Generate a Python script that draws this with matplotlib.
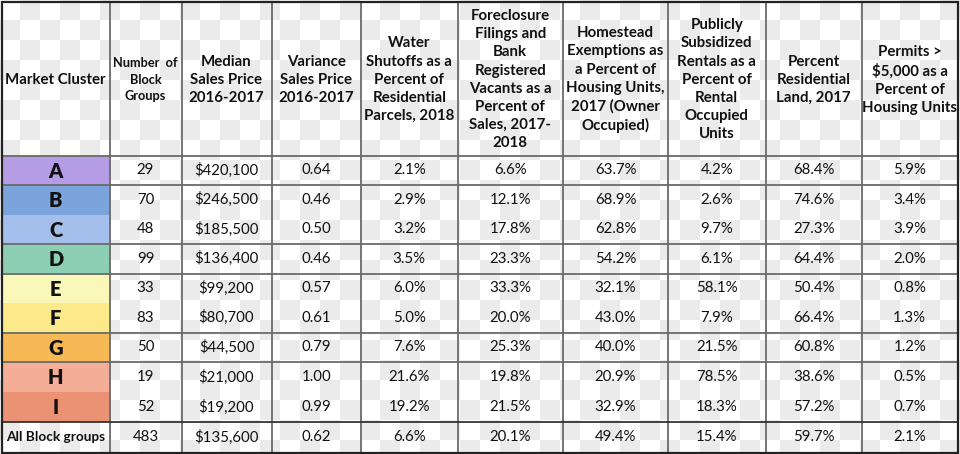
import matplotlib
matplotlib.use('Agg')
import matplotlib.pyplot as plt
import numpy as np
from matplotlib.patches import Rectangle

plt.rcParams['font.family'] = ['Lato', 'DejaVu Sans']
plt.rcParams['text.parse_math'] = False

##################################################
# table data
##################################################
clusters = ['A', 'B', 'C', 'D', 'E', 'F', 'G', 'H', 'I']
total_label = 'All Block groups'
block_groups = [29, 70, 48, 99, 33, 83, 50, 19, 52, 483]
median_price = [420100, 246500, 185500, 136400, 99200, 80700, 44500, 21000, 19200, 135600]
variance_price = [0.64, 0.46, 0.50, 0.46, 0.57, 0.61, 0.79, 1.00, 0.99, 0.62]
water_shutoffs = [2.1, 2.9, 3.2, 3.5, 6.0, 5.0, 7.6, 21.6, 19.2, 6.6]
foreclosures = [6.6, 12.1, 17.8, 23.3, 33.3, 20.0, 25.3, 19.8, 21.5, 20.1]
homestead = [63.7, 68.9, 62.8, 54.2, 32.1, 43.0, 40.0, 20.9, 32.9, 49.4]
subsidized = [4.2, 2.6, 9.7, 6.1, 58.1, 7.9, 21.5, 78.5, 18.3, 15.4]
residential_land = [68.4, 74.6, 27.3, 64.4, 50.4, 66.4, 60.8, 38.6, 57.2, 59.7]
permits = [5.9, 3.4, 3.9, 2.0, 0.8, 1.3, 1.2, 0.5, 0.7, 2.1]

headers = ['Market Cluster',
           'Number  of\nBlock\nGroups',
           'Median\nSales Price\n2016-2017',
           'Variance\nSales Price\n2016-2017',
           'Water\nShutoffs as a\nPercent of\nResidential\nParcels, 2018',
           'Foreclosure\nFilings and\nBank\nRegistered\nVacants as a\nPercent of\nSales, 2017-\n2018',
           'Homestead\nExemptions as\na Percent of\nHousing Units,\n2017 (Owner\nOccupied)',
           'Publicly\nSubsidized\nRentals as a\nPercent of\nRental\nOccupied\nUnits',
           'Percent\nResidential\nLand, 2017',
           'Permits >\n$5,000 as a\nPercent of\nHousing Units']

cluster_colors = ['#b59de6', '#7ba3dc', '#a4bfec', '#8dcfb5', '#faf8b8',
                  '#fbe98a', '#f6b955', '#f4ae98', '#eb9274']

# layout in pixels
col_x = [2, 109.5, 181.5, 271.5, 361, 457.5, 563, 668, 765.5, 862, 957.5]
row_y = [2, 155.5, 185, 214.5, 244, 273.5, 303, 332.5, 362, 392, 422, 452.5]
ruled_rows = [1, 2, 4, 5, 7, 8, 10]

W, H = 960, 454
fig = plt.figure(figsize=(W / 100, H / 100), dpi=100)
ax = fig.add_axes([0, 0, 1, 1])
ax.axis('off')

# transparency checkerboard background
ny, nx = 23, 48
checker = (np.add.outer(np.arange(ny), np.arange(nx)) % 2).astype(float)
ax.imshow(checker, cmap=matplotlib.colors.ListedColormap(['#ffffff', '#ebebeb']),
          extent=(0, nx * 20, ny * 20, 0), interpolation='nearest', zorder=0)
ax.set_xlim(0, W)
ax.set_ylim(H, 0)

# cluster colour cells
for i, c in enumerate(cluster_colors):
    ax.add_patch(Rectangle((col_x[0], row_y[i + 1]), col_x[1] - col_x[0],
                           row_y[i + 2] - row_y[i + 1], facecolor=c,
                           edgecolor='none', zorder=1))

# grid lines
lw = 1.3
for x in col_x[1:-1]:
    ax.plot([x, x], [row_y[0], row_y[-1]], color='#6a6a6a', lw=lw, zorder=2)
for r in ruled_rows:
    col = '#333333' if r == 10 else '#6a6a6a'
    ax.plot([col_x[0], col_x[-1]], [row_y[r], row_y[r]], color=col, lw=lw, zorder=2)
ax.add_patch(Rectangle((col_x[0], row_y[0]), col_x[-1] - col_x[0], row_y[-1] - row_y[0],
                       facecolor='none', edgecolor='#222222', lw=1.6, zorder=3))

# header text
for j, h in enumerate(headers):
    cx = (col_x[j] + col_x[j + 1]) / 2
    cy = (row_y[0] + row_y[1]) / 2
    if j == 1:
        ax.text(cx, cy + 1, h, ha='center', va='center', fontsize=9.2,
                fontweight='bold', linespacing=1.45, color='#111111', zorder=4)
    else:
        ax.text(cx, cy + 1, h, ha='center', va='center', fontsize=10.8,
                fontweight='bold', linespacing=1.38, color='#111111', zorder=4)

# body text
columns = [
    [str(v) for v in block_groups],
    [f'${v:,}' for v in median_price],
    [f'{v:.2f}' for v in variance_price],
    [f'{v:.1f}%' for v in water_shutoffs],
    [f'{v:.1f}%' for v in foreclosures],
    [f'{v:.1f}%' for v in homestead],
    [f'{v:.1f}%' for v in subsidized],
    [f'{v:.1f}%' for v in residential_land],
    [f'{v:.1f}%' for v in permits],
]
labels = clusters + [total_label]
for i in range(len(labels)):
    cy = (row_y[i + 1] + row_y[i + 2]) / 2
    cx = (col_x[0] + col_x[1]) / 2
    if i < len(clusters):
        ax.text(cx, cy + 1, labels[i], ha='center', va='center', fontsize=14.5,
                fontweight='heavy', color='#111111', zorder=4)
    else:
        ax.text(cx, cy, labels[i], ha='center', va='center', fontsize=9.8,
                fontweight='bold', color='#111111', zorder=4)
    for j, col in enumerate(columns):
        cx = (col_x[j + 1] + col_x[j + 2]) / 2
        ax.text(cx, cy, col[i], ha='center', va='center', fontsize=10.8,
                color='#111111', zorder=4)

fig.savefig('out.png', dpi=100)
